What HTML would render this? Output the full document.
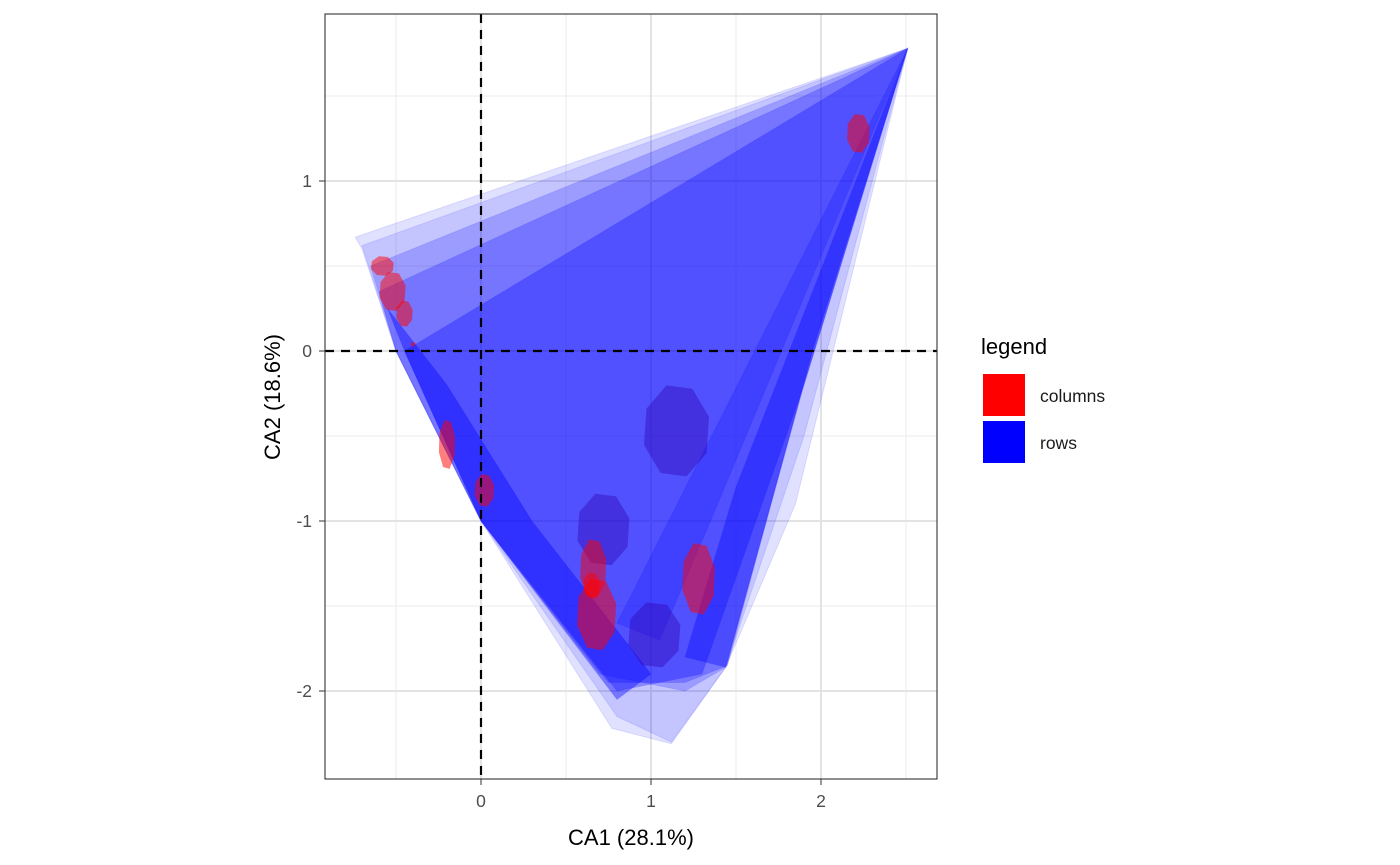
<!DOCTYPE html>
<html><head><meta charset="utf-8"><style>
html,body{margin:0;padding:0;background:#fff;}
svg{display:block;font-family:"Liberation Sans",Arial,sans-serif;}
</style></head><body>
<svg id="chart" width="1400" height="865" viewBox="0 0 1400 865">
<defs><clipPath id="pc"><rect x="325" y="14" width="612" height="765"/></clipPath></defs>
<rect x="325" y="14" width="612" height="765" fill="#fff"/>
<g id="grid"></g>
<g id="rows" clip-path="url(#pc)"></g>
<g id="cols" clip-path="url(#pc)"></g>
<g id="refs"></g>
<rect x="325" y="14" width="612" height="765" fill="none" stroke="#333" stroke-width="1.1"/>
<g id="axes"></g>
<text x="631" y="845" font-size="22" text-anchor="middle" fill="#000">CA1 (28.1%)</text>
<text transform="translate(280,397) rotate(-90)" font-size="22" text-anchor="middle" fill="#000">CA2 (18.6%)</text>
<g>
<text x="981" y="354" font-size="22" fill="#000">legend</text>
<rect x="983" y="374" width="42" height="42" fill="#ff0000"/>
<text x="1040" y="402" font-size="17.5" fill="#1a1a1a">columns</text>
<rect x="983" y="421" width="42" height="42" fill="#0000ff"/>
<text x="1040" y="449" font-size="17.5" fill="#1a1a1a">rows</text>
</g>
</svg>
<script>
// data
const xTicks = [0, 1, 2];
const yTicks = [1, 0, -1, -2];
const xMinor = [-0.5, 0.5, 1.5, 2.5];
const yMinor = [1.5, 0.5, -0.5, -1.5];
// row hull layers: x coords, y coords, opacity
const rowHullX = [
 [2.51,-0.74,-0.70,-0.50,0.00,0.77,1.12,1.44,1.85],
 [2.51,-0.70,-0.50,0.00,0.80,1.12,1.44,1.90],
 [2.51,-0.65,-0.50,0.00,0.70,1.20,1.44,1.95],
 [2.51,-0.60,-0.50,0.00,0.75,1.20,1.45,1.95],
 [2.51,-0.45,0.00,0.80,1.30,1.90],
 [2.51,1.50,1.20,1.44,1.90],
 [-0.55,-0.45,0.00,0.80,1.00,0.30,-0.20],
 [2.51,0.80,1.05,1.35]
];
const rowHullY = [
 [1.78,0.67,0.60,0.00,-1.00,-2.22,-2.31,-1.86,-0.90],
 [1.78,0.62,0.00,-1.00,-2.15,-2.30,-1.86,-0.50],
 [1.78,0.50,0.00,-1.00,-1.90,-2.00,-1.86,0.00],
 [1.78,0.35,0.00,-1.00,-1.95,-1.95,-1.85,0.00],
 [1.78,0.00,-1.00,-2.00,-1.90,-0.20],
 [1.78,-0.80,-1.80,-1.86,-0.20],
 [0.25,0.00,-1.00,-2.05,-1.90,-1.00,-0.20],
 [1.78,-1.60,-1.70,-1.00]
];
const rowHullOpacity = [0.12,0.12,0.2,0.25,0.3,0.35,0.4,0.2];
// column clusters (center x, center y, half-width, half-height)
const colX = [-0.58,-0.52,-0.45,-0.40,-0.20,0.02,0.66,0.65,0.68,1.28,2.22];
const colY = [0.50,0.35,0.22,0.04,-0.55,-0.82,-1.28,-1.38,-1.55,-1.34,1.28];
const colW = [0.07,0.08,0.05,0.015,0.05,0.06,0.08,0.05,0.12,0.1,0.07];
const colH = [0.06,0.12,0.08,0.015,0.15,0.1,0.18,0.08,0.22,0.22,0.12];
// dark overlapping clusters
const darkX = [1.15,0.72,1.02];
const darkY = [-0.47,-1.05,-1.67];
const darkW = [0.2,0.16,0.16];
const darkH = [0.28,0.22,0.2];

const X0=481, Y0=351, S=170;
const sx = v => X0 + v*S;
const sy = v => Y0 - v*S;
const NS='http://www.w3.org/2000/svg';
function mk(tag, parent, attrs){const e=document.createElementNS(NS,tag);for(const k in attrs)e.setAttribute(k,attrs[k]);parent.appendChild(e);return e;}
const grid=document.getElementById('grid'), axes=document.getElementById('axes');
xMinor.forEach(v=>{const l=mk('line',grid,{x1:sx(v),x2:sx(v),y1:14,y2:779,stroke:'#ebebeb','stroke-width':1});

});
yMinor.forEach(v=>{const l=mk('line',grid,{x1:325,x2:937,y1:sy(v),y2:sy(v),stroke:'#ebebeb','stroke-width':1});

});
xTicks.forEach(v=>{const l=mk('line',grid,{x1:sx(v),x2:sx(v),y1:14,y2:779,stroke:'#e3e3e3','stroke-width':2});


const t=mk('line',axes,{x1:sx(v),x2:sx(v),y1:779,y2:785,stroke:'#333','stroke-width':1});


const tx=mk('text',axes,{x:sx(v),y:807,'font-size':17.5,'text-anchor':'middle',fill:'#4d4d4d'});tx.textContent=v;

});
yTicks.forEach(v=>{const l=mk('line',grid,{x1:325,x2:937,y1:sy(v),y2:sy(v),stroke:'#e3e3e3','stroke-width':2});


const t=mk('line',axes,{x1:319,x2:325,y1:sy(v),y2:sy(v),stroke:'#333','stroke-width':1});


const tx=mk('text',axes,{x:312,y:sy(v)+6,'font-size':17.5,'text-anchor':'end',fill:'#4d4d4d'});tx.textContent=v;

});
const rows=document.getElementById('rows');
rowHullX.forEach((xs,i)=>{const pts=xs.map((x,j)=>sx(x)+','+sy(rowHullY[i][j])).join(' ');
const p=mk('polygon',rows,{points:pts,fill:'#0000ff','fill-opacity':rowHullOpacity[i],stroke:'#0000ff','stroke-opacity':0.1});

});
function blob(cx,cy,w,h){const pts=[];for(let k=0;k<8;k++){const a=k*Math.PI/4+0.3;pts.push(sx(cx+w*Math.cos(a))+','+sy(cy+h*Math.sin(a)));}return pts.join(' ');}
const cols=document.getElementById('cols');
darkX.forEach((x,i)=>{const p=mk('polygon',cols,{points:blob(x,darkY[i],darkW[i],darkH[i]),fill:'#3000b0','fill-opacity':0.4});

});
colX.forEach((x,i)=>{const p=mk('polygon',cols,{points:blob(x,colY[i],colW[i],colH[i]),fill:'#ff0000','fill-opacity':0.5});

});
const refs=document.getElementById('refs');
const v0=mk('line',refs,{x1:sx(0),x2:sx(0),y1:14,y2:779,stroke:'#000','stroke-width':2.2,'stroke-dasharray':'9,7'});


const h0=mk('line',refs,{x1:325,x2:937,y1:sy(0),y2:sy(0),stroke:'#000','stroke-width':2.2,'stroke-dasharray':'9,7'});


</script>
</body></html>
